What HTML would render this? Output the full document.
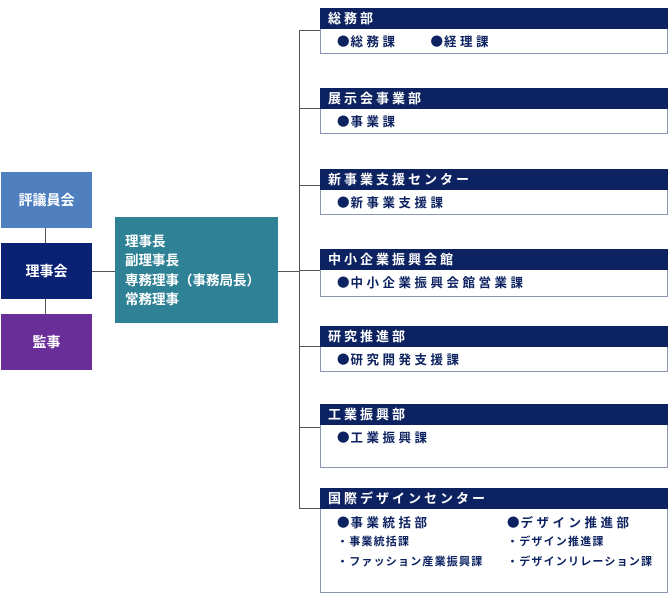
<!DOCTYPE html>
<html><head><meta charset="utf-8"><style>
body{margin:0;width:670px;height:600px;background:#fff;position:relative;font-family:"Liberation Sans","Noto Sans CJK JP",sans-serif;overflow:hidden}
.a{position:absolute}
.lb{position:absolute;left:1px;width:91px;height:56px;color:#fff;font-weight:bold;font-size:14px;display:flex;align-items:center;justify-content:center}
.l{position:absolute;background:#555}
.d{position:absolute;left:320px;width:346px;border:1px solid #8a96b4;background:#fff}
.h{background:#0d2260;color:#fff;font-weight:bold;font-size:13px;letter-spacing:3px;height:21px;line-height:21px;padding-left:8px;margin:-1px -1px 0 -1px}
.b{color:#0d2260;font-weight:bold;font-size:12.5px;letter-spacing:3.5px;padding:3px 0 0 16px;line-height:17px}
.s{font-size:11px;letter-spacing:1.2px;line-height:20px}
i{font-style:normal;font-family:"Noto Sans CJK JP",sans-serif;letter-spacing:1px}
</style></head><body>
<div class="lb" style="top:172px;background:#4f7fbf">評議員会</div>
<div class="lb" style="top:243px;background:#0b2274">理事会</div>
<div class="lb" style="top:314px;background:#6a2e98">監事</div>
<div class="l" style="left:45px;top:228px;width:1px;height:15px"></div>
<div class="l" style="left:45px;top:299px;width:1px;height:15px"></div>
<div class="l" style="left:92px;top:271px;width:23px;height:1px"></div>
<div class="a" style="left:115px;top:217px;width:163px;height:106px;background:#2f8296;color:#fff;font-weight:bold;font-size:13.5px;line-height:19px;padding:15px 0 0 10px;box-sizing:border-box">理事長<br>副理事長<br>専務理事<i style="letter-spacing:0">（</i>事務局長<i style="letter-spacing:0">）</i><br>常務理事</div>
<div class="l" style="left:278px;top:271px;width:22px;height:1px"></div>
<div class="l" style="left:299px;top:30px;width:1px;height:479px"></div>
<div class="l" style="left:299px;top:30px;width:21px;height:1px"></div>
<div class="l" style="left:299px;top:108px;width:21px;height:1px"></div>
<div class="l" style="left:299px;top:185px;width:21px;height:1px"></div>
<div class="l" style="left:299px;top:270px;width:21px;height:1px"></div>
<div class="l" style="left:299px;top:346px;width:21px;height:1px"></div>
<div class="l" style="left:299px;top:427px;width:21px;height:1px"></div>
<div class="l" style="left:299px;top:508px;width:21px;height:1px"></div>

<div class="d" style="top:8px;height:44px"><div class="h">総務部</div><div class="b"><i>●</i>総務課　　<i>●</i>経理課</div></div>
<div class="d" style="top:88px;height:44px"><div class="h">展示会事業部</div><div class="b"><i>●</i>事業課</div></div>
<div class="d" style="top:169px;height:44px"><div class="h">新事業支援センター</div><div class="b"><i>●</i>新事業支援課</div></div>
<div class="d" style="top:249px;height:46px"><div class="h">中小企業振興会館</div><div class="b"><i>●</i>中小企業振興会館営業課</div></div>
<div class="d" style="top:326px;height:44px"><div class="h">研究推進部</div><div class="b"><i>●</i>研究開発支援課</div></div>
<div class="d" style="top:404px;height:62px"><div class="h">工業振興部</div><div class="b"><i>●</i>工業振興課</div></div>
<div class="d" style="top:488px;height:103px"><div class="h">国際デザインセンター</div>
<div class="b a" style="left:0;top:21px"><i>●</i>事業統括部<div class="s">・事業統括課<br>・ファッション産業振興課</div></div>
<div class="b a" style="left:170px;top:21px"><i>●</i>デザイン推進部<div class="s">・デザイン推進課<br>・デザインリレーション課</div></div>
</div>
</body></html>
